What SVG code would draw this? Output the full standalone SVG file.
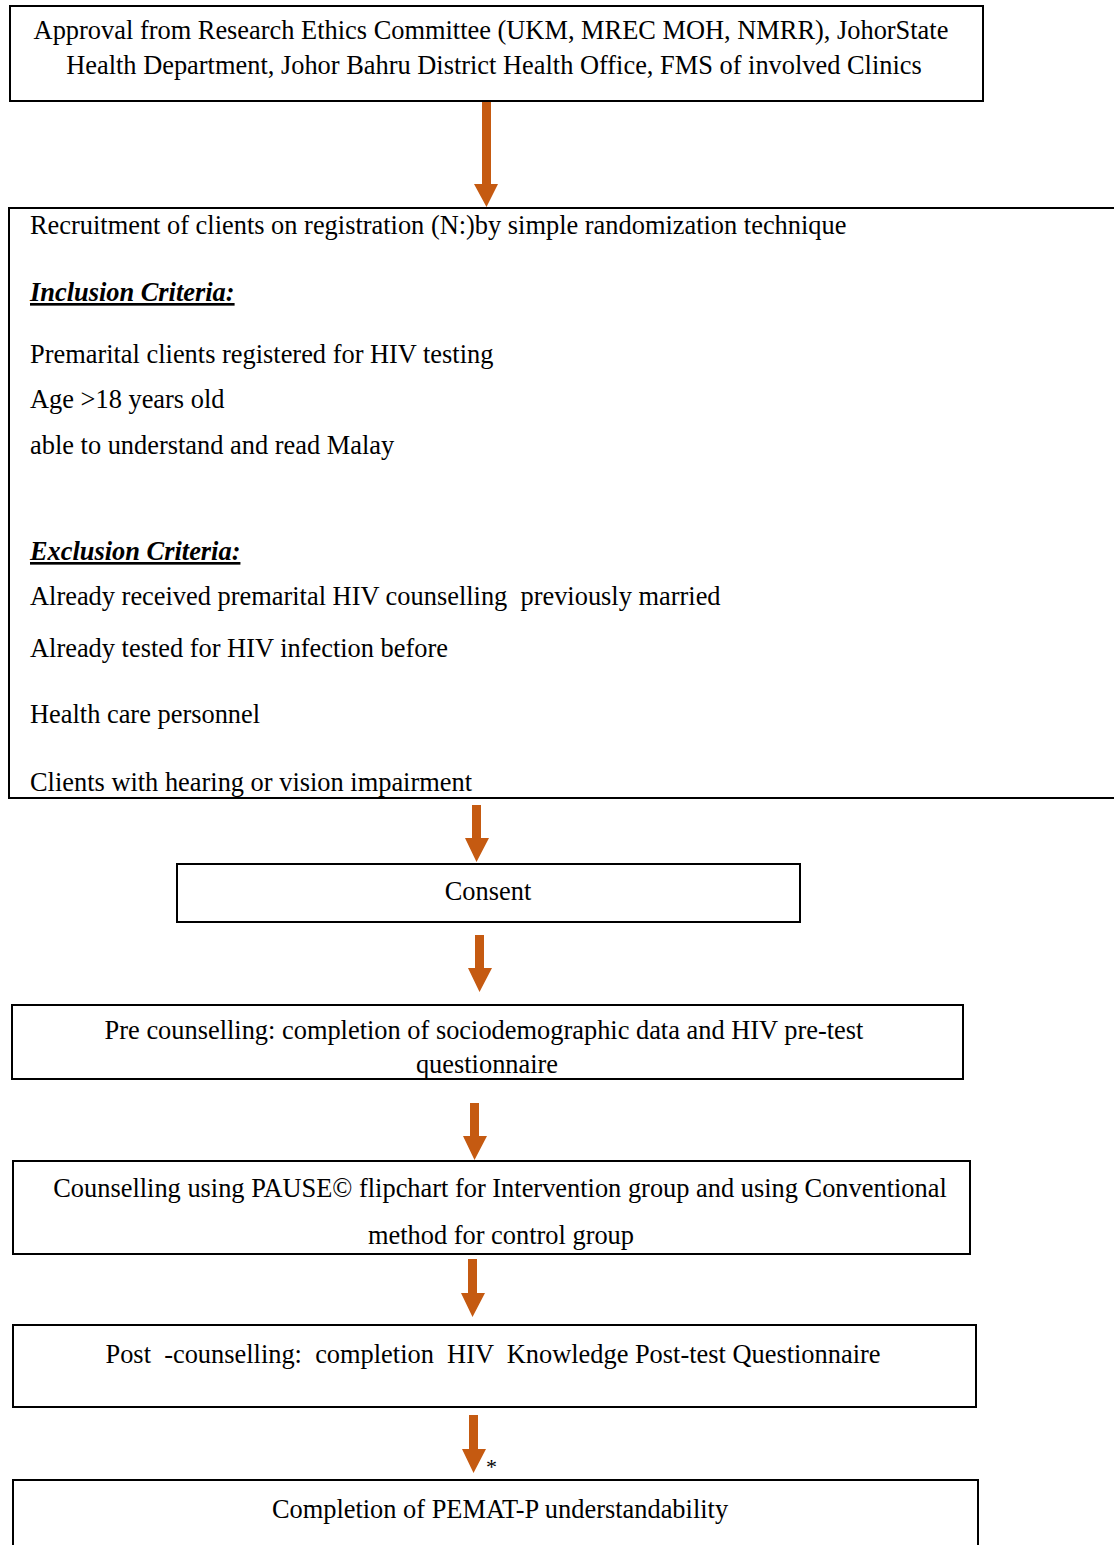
<svg xmlns="http://www.w3.org/2000/svg" width="1114" height="1545" viewBox="0 0 1114 1545">
<style>
.box{fill:#fff;stroke:#000;stroke-width:2}
.t{font-family:"Liberation Serif",serif;font-size:26.4px;fill:#000}
.c{text-anchor:middle}
.h{font-weight:bold;font-style:italic;text-decoration:underline}
.arr{fill:#C55A11}
</style>
<rect width="1114" height="1545" fill="#fff"/>
<g id="connectors">
<polygon class="arr" points="482,102 491,102 491,184 498,184 486.5,207 474,184 482,184"/>
<polygon class="arr" points="472,805 481,805 481,838 489,838 476.5,862 465,838 472,838"/>
<polygon class="arr" points="475,935 484,935 484,968 492,968 479.5,992 468,968 475,968"/>
<polygon class="arr" points="470,1103 479,1103 479,1136 487,1136 474.5,1160 463,1136 470,1136"/>
<polygon class="arr" points="468,1259 477,1259 477,1293 485,1293 472.5,1317 461,1293 468,1293"/>
<polygon class="arr" points="469,1415 478,1415 478,1449 486,1449 473.5,1473 462,1449 469,1449"/>
<text class="t" x="486" y="1474" style="font-size:22px">*</text>
</g>
<g id="n1">
<rect class="box" x="10" y="6" width="973" height="95"/>
<text class="t c" x="491" y="39">Approval from Research Ethics Committee (UKM, MREC MOH, NMRR), JohorState</text>
<text class="t c" x="494" y="74">Health Department, Johor Bahru District Health Office, FMS of involved Clinics</text>
</g>
<g id="n2">
<rect class="box" x="9" y="208" width="1120" height="590"/>
<text class="t" x="30" y="234">Recruitment of clients on registration (N:)by simple randomization technique</text>
<text class="t h" x="30" y="301">Inclusion Criteria:</text>
<text class="t" x="30" y="363">Premarital clients registered for HIV testing</text>
<text class="t" x="30" y="408">Age &gt;18 years old</text>
<text class="t" x="30" y="454">able to understand and read Malay</text>
<text class="t h" x="30" y="560">Exclusion Criteria:</text>
<text class="t" x="30" y="605" xml:space="preserve">Already received premarital HIV counselling  previously married</text>
<text class="t" x="30" y="657">Already tested for HIV infection before</text>
<text class="t" x="30" y="723">Health care personnel</text>
<text class="t" x="30" y="791">Clients with hearing or vision impairment</text>
</g>
<g id="n3">
<rect class="box" x="177" y="864" width="623" height="58"/>
<text class="t c" x="488" y="900">Consent</text>
</g>
<g id="n4">
<rect class="box" x="12" y="1005" width="951" height="74"/>
<text class="t c" x="484" y="1039">Pre counselling: completion of sociodemographic data and HIV pre-test</text>
<text class="t c" x="487" y="1073">questionnaire</text>
</g>
<g id="n5">
<rect class="box" x="13" y="1161" width="957" height="93"/>
<text class="t c" x="500" y="1197">Counselling using PAUSE© flipchart for Intervention group and using Conventional</text>
<text class="t c" x="501" y="1244">method for control group</text>
</g>
<g id="n6">
<rect class="box" x="13" y="1325" width="963" height="82"/>
<text class="t c" x="493" y="1363" xml:space="preserve">Post  -counselling:  completion  HIV  Knowledge Post-test Questionnaire</text>
</g>
<g id="n7">
<rect class="box" x="13" y="1480" width="965" height="100"/>
<text class="t c" x="500" y="1518">Completion of PEMAT-P understandability</text>
</g>
</svg>
